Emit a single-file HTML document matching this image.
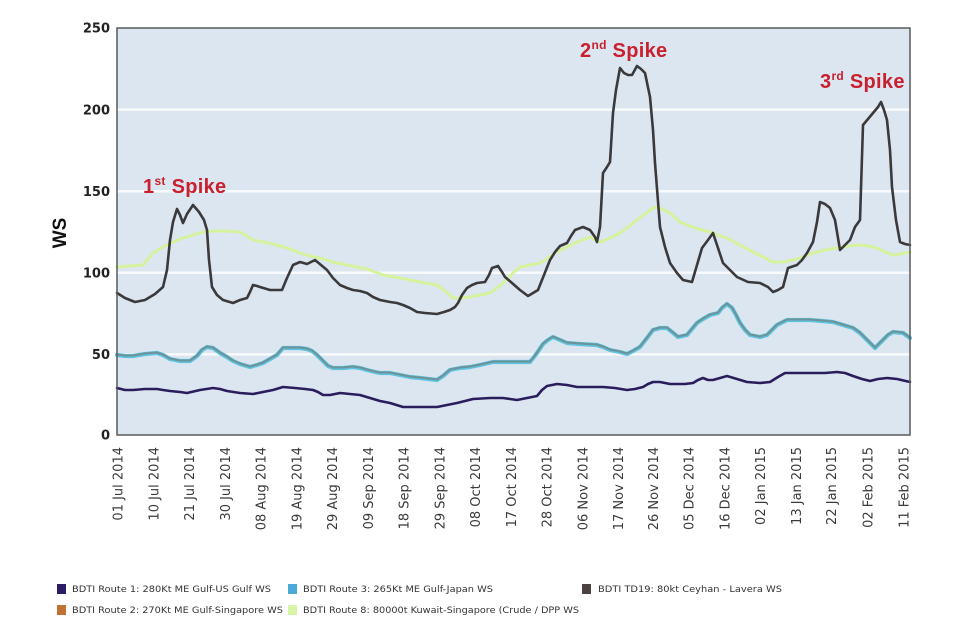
<!DOCTYPE html>
<html>
<head>
<meta charset="utf-8">
<style>
  html,body{margin:0;padding:0;background:#fff;}
  svg{display:block;}
</style>
</head>
<body>
<svg width="963" height="627" viewBox="0 0 963 627" xmlns="http://www.w3.org/2000/svg">
  <rect x="0" y="0" width="963" height="627" fill="#ffffff"/>
  <!-- plot area -->
  <rect x="117" y="28" width="793" height="407" fill="#dce6f1"/>
  <!-- gridlines -->
  <g stroke="#f9fafb" stroke-width="2.5">
    <line x1="117" y1="109.6" x2="910" y2="109.6"/>
    <line x1="117" y1="191.2" x2="910" y2="191.2"/>
    <line x1="117" y1="272.8" x2="910" y2="272.8"/>
    <line x1="117" y1="354.4" x2="910" y2="354.4"/>
  </g>

  <!-- Route 1 purple -->
  <polyline fill="none" stroke="#2b1d5c" stroke-width="2.6" stroke-linejoin="round" stroke-linecap="round"
    points="117,388 125,390 133,390 145,389 157,389 163,390 170,391 180,392 187,393 200,390 213,388 220,389 227,391 240,393 253,394 263,392 273,390 283,387 295,388 305,389 313,390 318,392 323,395 330,395 340,393 350,394 360,395 370,398 380,401 390,403 403,407 420,407 437,407 447,405 457,403 465,401 473,399 490,398 503,398 510,399 517,400 527,398 537,396 542,390 547,386 557,384 567,385 577,387 590,387 603,387 615,388 627,390 635,389 643,387 648,384 653,382 660,382 670,384 677,384 685,384 693,383 698,380 703,378 708,380 713,380 720,378 727,376 737,379 747,382 760,383 770,382 778,377 785,373 795,373 810,373 825,373 837,372 845,373 853,376 862,379 870,381 878,379 887,378 897,379 910,382"/>

  <!-- Route 3 / Route 2 (overlapping) -->
  <polyline fill="none" stroke="#5ec3df" stroke-width="4.2" stroke-linejoin="round" stroke-linecap="round"
    points="117,355 125,356 133,356 145,354 157,353 163,355 170,359 180,361 190,361 197,356 202,350 207,347 213,348 220,353 227,357 233,361 240,364 250,367 257,365 263,363 270,359 277,355 283,348 290,348 300,348 307,349 312,351 317,355 322,360 328,366 333,368 343,368 353,367 360,368 367,370 375,372 380,373 390,373 400,375 410,377 420,378 437,380 443,376 450,370 460,368 470,367 480,365 493,362 510,362 520,362 530,362 534,357 537,353 543,344 548,340 553,337 560,340 567,343 580,344 597,345 603,347 610,350 620,352 627,354 633,351 640,347 647,338 653,330 660,328 667,328 672,332 678,337 687,335 692,329 697,323 703,319 710,315 718,313 722,308 727,304 732,308 736,315 740,323 745,330 750,335 760,337 767,335 772,330 777,325 787,320 800,320 810,320 822,321 833,322 843,325 853,328 860,333 867,340 875,348 879,344 883,340 888,335 893,332 903,333 910,338"/>
  <polyline fill="none" stroke="#6d9298" stroke-width="2" stroke-linejoin="round" stroke-linecap="round"
    points="117,354.5 125,355.5 133,355.5 145,353.5 157,352.5 163,354.5 170,358.5 180,360.5 190,360.5 197,355.5 202,349.5 207,346.5 213,347.5 220,352.5 227,356.5 233,360.5 240,363.5 250,366.5 257,364.5 263,362.5 270,358.5 277,354.5 283,347.5 290,347.5 300,347.5 307,348.5 312,350.5 317,354.5 322,359.5 328,365.5 333,367.5 343,367.5 353,366.5 360,367.5 367,369.5 375,371.5 380,372.5 390,372.5 400,374.5 410,376.5 420,377.5 437,379.5 443,375.5 450,369.5 460,367.5 470,366.5 480,364.5 493,361.5 510,361.5 520,361.5 530,361.5 534,356.5 537,352.5 543,343.5 548,339.5 553,336.5 560,339.5 567,342.5 580,343.5 597,344.5 603,346.5 610,349.5 620,351.5 627,353.5 633,350.5 640,346.5 647,337.5 653,329.5 660,327.5 667,327.5 672,331.5 678,336.5 687,334.5 692,328.5 697,322.5 703,318.5 710,314.5 718,312.5 722,307.5 727,303.5 732,307.5 736,314.5 740,322.5 745,329.5 750,334.5 760,336.5 767,334.5 772,329.5 777,324.5 787,319.5 800,319.5 810,319.5 822,320.5 833,321.5 843,324.5 853,327.5 860,332.5 867,339.5 875,347.5 879,343.5 883,339.5 888,334.5 893,331.5 903,332.5 910,337.5"/>

  <!-- Route 8 green -->
  <polyline fill="none" stroke="#d5f29e" stroke-width="3" stroke-linejoin="round" stroke-linecap="round"
    points="117,267 130,266 143,265 148,259 153,253 163,247 173,242 183,238 193,235 203,232 213,231 225,231 240,232 247,236 253,240 263,242 273,244 287,248 300,253 310,256 320,258 333,262 347,265 357,267 367,269 375,272 383,275 395,277 410,280 425,283 437,285 445,291 453,298 460,298 470,297 480,295 490,293 498,287 507,280 513,273 520,267 530,265 540,263 548,258 557,252 567,247 577,242 585,239 590,237 595,240 600,242 610,238 620,233 628,227 637,220 645,214 653,208 657,207 662,209 670,213 680,222 695,228 710,232 718,235 727,238 740,245 753,252 763,257 773,262 783,262 793,260 803,257 813,253 825,250 837,248 848,246 860,245 868,246 877,248 885,252 893,255 900,254 910,252"/>

  <!-- TD19 dark -->
  <polyline fill="none" stroke="#3b3939" stroke-width="2.6" stroke-linejoin="round" stroke-linecap="round"
    points="117,293 125,298 135,302 145,300 155,294 163,287 167,270 170,240 173,222 177,209 180,215 183,223 187,214 193,205 199,212 204,220 207,230 209,260 212,287 217,295 223,300 233,303 240,300 247,298 250,292 253,285 257,286 260,287 270,290 282,290 287,278 293,265 300,262 307,264 315,260 321,265 327,270 333,278 340,285 347,288 353,290 360,291 367,293 373,297 380,300 390,302 397,303 403,305 410,308 417,312 425,313 437,314 444,312 450,310 455,307 458,303 462,295 467,288 472,285 477,283 485,282 489,275 492,268 498,266 502,272 505,277 512,283 520,290 528,296 533,293 538,290 544,275 550,260 555,252 560,246 567,243 571,236 575,230 583,227 590,230 595,237 597,242 600,227 603,173 607,167 610,162 613,113 616,90 620,68 624,73 628,75 632,75 637,66 641,69 645,73 650,97 653,130 655,163 660,227 665,247 670,263 677,273 683,280 692,282 697,265 702,248 708,240 713,233 718,248 723,263 730,270 737,277 748,282 760,283 768,287 773,292 778,290 783,287 788,268 797,265 802,260 807,253 813,242 817,222 820,202 825,204 830,208 835,220 840,250 845,245 850,240 855,227 860,220 863,125 868,119 873,113 878,107 881,102 884,110 887,120 890,150 892,187 896,220 900,242 905,244 910,245"/>

  <!-- plot border -->
  <rect x="117" y="28" width="793" height="407" fill="none" stroke="#5a5a5a" stroke-width="1.5"/>

  <!-- y tick labels -->
  <g font-family="'DejaVu Sans', sans-serif" font-weight="bold" font-size="13" fill="#222" text-anchor="end">
    <text x="110" y="32.7">250</text>
    <text x="110" y="114.3">200</text>
    <text x="110" y="195.9">150</text>
    <text x="110" y="277.5">100</text>
    <text x="110" y="359.1">50</text>
    <text x="110" y="439.7">0</text>
  </g>
  <text transform="translate(66,233) rotate(-90)" text-anchor="middle" font-family="'Liberation Sans', sans-serif" font-weight="bold" font-size="19" fill="#111">WS</text>

  <!-- x tick labels -->
  <g font-family="'DejaVu Sans', sans-serif" font-size="13" fill="#3a3a3a" text-anchor="end">
    <text transform="translate(122.7,447) rotate(-90)">01 Jul 2014</text>
    <text transform="translate(158.4,447) rotate(-90)">10 Jul 2014</text>
    <text transform="translate(194.2,447) rotate(-90)">21 Jul 2014</text>
    <text transform="translate(229.9,447) rotate(-90)">30 Jul 2014</text>
    <text transform="translate(265.7,447) rotate(-90)">08 Aug 2014</text>
    <text transform="translate(301.4,447) rotate(-90)">19 Aug 2014</text>
    <text transform="translate(337.2,447) rotate(-90)">29 Aug 2014</text>
    <text transform="translate(372.9,447) rotate(-90)">09 Sep 2014</text>
    <text transform="translate(408.7,447) rotate(-90)">18 Sep 2014</text>
    <text transform="translate(444.4,447) rotate(-90)">29 Sep 2014</text>
    <text transform="translate(480.2,447) rotate(-90)">08 Oct 2014</text>
    <text transform="translate(515.9,447) rotate(-90)">17 Oct 2014</text>
    <text transform="translate(551.7,447) rotate(-90)">28 Oct 2014</text>
    <text transform="translate(587.4,447) rotate(-90)">06 Nov 2014</text>
    <text transform="translate(623.2,447) rotate(-90)">17 Nov 2014</text>
    <text transform="translate(657.9,447) rotate(-90)">26 Nov 2014</text>
    <text transform="translate(693.7,447) rotate(-90)">05 Dec 2014</text>
    <text transform="translate(729.4,447) rotate(-90)">16 Dec 2014</text>
    <text transform="translate(765.2,447) rotate(-90)">02 Jan 2015</text>
    <text transform="translate(800.9,447) rotate(-90)">13 Jan 2015</text>
    <text transform="translate(836.2,447) rotate(-90)">22 Jan 2015</text>
    <text transform="translate(872.4,447) rotate(-90)">02 Feb 2015</text>
    <text transform="translate(908.7,447) rotate(-90)">11 Feb 2015</text>
  </g>

  <!-- annotations -->
  <g font-family="'Liberation Sans', sans-serif" font-weight="bold" font-size="20" fill="#c8202e" letter-spacing="0.3">
    <text x="143" y="193">1<tspan dy="-8" font-size="12">st</tspan><tspan dy="8"> Spike</tspan></text>
    <text x="580" y="57">2<tspan dy="-8" font-size="12">nd</tspan><tspan dy="8"> Spike</tspan></text>
    <text x="820" y="88">3<tspan dy="-8" font-size="12">rd</tspan><tspan dy="8"> Spike</tspan></text>
  </g>

  <!-- legend -->
  <rect x="57" y="584" width="9" height="10" fill="#2e1b66"/>
  <rect x="288" y="584" width="9" height="10" fill="#4aaad8"/>
  <rect x="582" y="584" width="9" height="10" fill="#4d4242"/>
  <rect x="57" y="605" width="9" height="10" fill="#c07232"/>
  <rect x="288" y="605" width="9" height="10" fill="#d8f5a8"/>
  <g font-family="'DejaVu Sans', sans-serif" font-size="8.5" fill="#333">
    <text x="72" y="592" textLength="199" lengthAdjust="spacingAndGlyphs">BDTI Route 1: 280Kt ME Gulf-US Gulf WS</text>
    <text x="303" y="592" textLength="190" lengthAdjust="spacingAndGlyphs">BDTI Route 3: 265Kt ME Gulf-Japan WS</text>
    <text x="598" y="592" textLength="184" lengthAdjust="spacingAndGlyphs">BDTI TD19: 80kt Ceyhan - Lavera WS</text>
    <text x="72" y="613" textLength="211" lengthAdjust="spacingAndGlyphs">BDTI Route 2: 270Kt ME Gulf-Singapore WS</text>
    <text x="303" y="613" textLength="276" lengthAdjust="spacingAndGlyphs">BDTI Route 8: 80000t Kuwait-Singapore (Crude / DPP WS</text>
  </g>
</svg>
</body>
</html>
